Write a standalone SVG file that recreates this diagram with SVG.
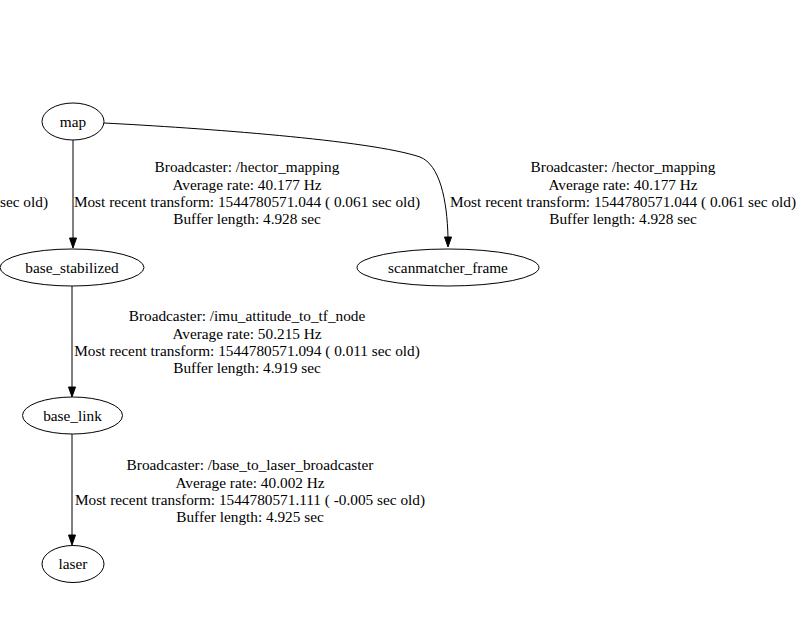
<svg xmlns="http://www.w3.org/2000/svg" width="811" height="629" viewBox="0 0 811 629" font-family="Liberation Serif, Times New Roman, serif" font-size="15.3">
<style>
text{font-family:'Liberation Serif','Times New Roman',serif;font-size:15.3px;fill:#000;text-anchor:middle}
.node ellipse{fill:none;stroke:#000;stroke-width:1}
.edge{fill:none;stroke:#000;stroke-width:1}
.ah{fill:#000;stroke:#000;stroke-width:1}
</style>
<rect width="811" height="629" fill="#fff"/>
<g id="connectors">
<g id="e_map_base_stabilized">
<path class="edge" d="M73,140 L73,238"/>
<polygon class="ah" points="69.5,238 76.5,238 73,248"/>
</g>
<g id="e_map_scanmatcher">
<path class="edge" d="M104,123 C200,128 370,140 420,157 C440,165 447,200 448,237"/>
<polygon class="ah" points="444.5,237 451.5,237 448,247"/>
</g>
<g id="e_base_stabilized_base_link">
<path class="edge" d="M72,286 L72,387"/>
<polygon class="ah" points="68.5,387 75.5,387 72,397"/>
</g>
<g id="e_base_link_laser">
<path class="edge" d="M72,434 L72,535"/>
<polygon class="ah" points="68.5,535 75.5,535 72,545"/>
</g>
</g>
<g id="labels">
<text x="48" y="207" style="text-anchor:end">sec old)</text>
<g id="lbl1">
<text x="247" y="172">Broadcaster: /hector_mapping</text>
<text x="247" y="189.5">Average rate: 40.177 Hz</text>
<text x="247" y="207">Most recent transform: 1544780571.044 ( 0.061 sec old)</text>
<text x="247" y="224">Buffer length: 4.928 sec</text>
</g>
<g id="lbl2">
<text x="623" y="172">Broadcaster: /hector_mapping</text>
<text x="623" y="189.5">Average rate: 40.177 Hz</text>
<text x="623" y="207">Most recent transform: 1544780571.044 ( 0.061 sec old)</text>
<text x="623" y="224">Buffer length: 4.928 sec</text>
</g>
<g id="lbl3">
<text x="247" y="321">Broadcaster: /imu_attitude_to_tf_node</text>
<text x="247" y="338.5">Average rate: 50.215 Hz</text>
<text x="247" y="356">Most recent transform: 1544780571.094 ( 0.011 sec old)</text>
<text x="247" y="373">Buffer length: 4.919 sec</text>
</g>
<g id="lbl4">
<text x="250" y="470">Broadcaster: /base_to_laser_broadcaster</text>
<text x="250" y="487.5">Average rate: 40.002 Hz</text>
<text x="250" y="505">Most recent transform: 1544780571.111 ( -0.005 sec old)</text>
<text x="250" y="522">Buffer length: 4.925 sec</text>
</g>
</g>
<g id="map" class="node">
<ellipse cx="73" cy="121.5" rx="31" ry="18.5"/>
<text x="73" y="126.5">map</text>
</g>
<g id="base_stabilized" class="node">
<ellipse cx="72" cy="267.5" rx="72" ry="18.5"/>
<text x="72" y="272.5">base_stabilized</text>
</g>
<g id="scanmatcher_frame" class="node">
<ellipse cx="448" cy="267.5" rx="91" ry="18.5"/>
<text x="448" y="272.5">scanmatcher_frame</text>
</g>
<g id="base_link" class="node">
<ellipse cx="72.5" cy="415.5" rx="50" ry="18.5"/>
<text x="72.5" y="420.5">base_link</text>
</g>
<g id="laser" class="node">
<ellipse cx="73" cy="564" rx="31" ry="18.5"/>
<text x="73" y="569">laser</text>
</g>
</svg>
